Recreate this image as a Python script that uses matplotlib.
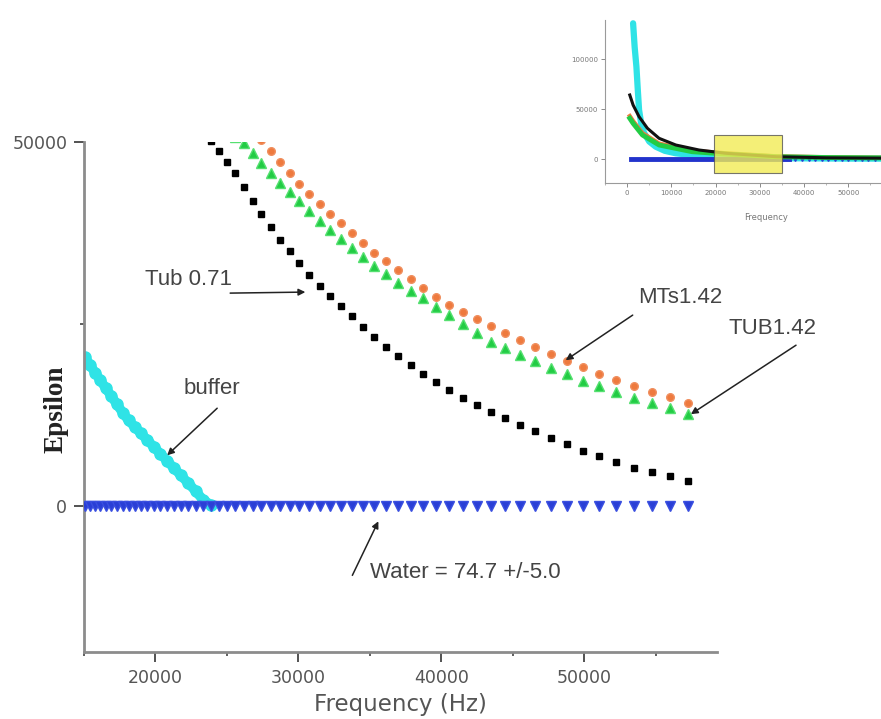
import matplotlib
matplotlib.use("Agg")
import matplotlib.pyplot as plt
from matplotlib.ticker import MultipleLocator
from matplotlib.patches import Rectangle

# ---------------- data ----------------
freq_buffer = [15070, 15420, 15780, 16150, 16520, 16910, 17300, 17710, 18120, 18540,
               18970, 19410, 19870, 20330, 20800, 21290, 21780, 22290, 22810, 23340, 23880]
eps_buffer = [20470, 19390, 18320, 17270, 16220, 15120, 14010, 12850, 11790, 10920,
              10030, 9130, 8180, 7230, 6260, 5250, 4240, 3190, 2090, 870, 200]

freq_water = [15070, 15420, 15780, 16150, 16520, 16910, 17300, 17710, 18120, 18540,
              18970, 19410, 19870, 20330, 20800, 21290, 21780, 22290, 22810, 23340,
              23880, 24440, 25010, 25590, 26190, 26800, 27420, 28060, 28720, 29390,
              30070, 30770, 31490, 32220, 32970, 33740, 34530, 35330, 36150, 37000,
              37860, 38740, 39640, 40570, 41510, 42480, 43470, 44480, 45520, 46580,
              47660, 48770, 49910, 51070, 52260, 53480, 54720, 56000, 57300]
eps_water = [79, 79, 78, 78, 77, 77, 77, 76, 76, 76,
             76, 75, 75, 75, 75, 75, 75, 75, 75, 75,
             75, 75, 75, 75, 75, 75, 75, 75, 74, 74,
             74, 74, 74, 74, 74, 74, 74, 74, 74, 74,
             74, 74, 74, 74, 74, 74, 74, 74, 74, 74,
             74, 74, 74, 74, 74, 74, 74, 74, 74]

freq_tub071 = [23880, 24440, 25010, 25590, 26190, 26800, 27420, 28060, 28720, 29390,
               30070, 30770, 31490, 32220, 32970, 33740, 34530, 35330, 36150, 37000,
               37860, 38740, 39640, 40570, 41510, 42480, 43470, 44480, 45520, 46580,
               47660, 48770, 49910, 51070, 52260, 53480, 54720, 56000, 57300]
eps_tub071 = [50080, 48710, 47310, 45740, 43850, 41940, 40100, 38310, 36590, 35010,
              33410, 31760, 30230, 28930, 27550, 26060, 24620, 23250, 21920, 20620,
              19390, 18210, 17070, 15970, 14930, 13920, 12990, 12100, 11190, 10270,
              9400, 8510, 7640, 6860, 6060, 5320, 4720, 4110, 3480]

freq_tub142 = [25590, 26190, 26800, 27420, 28060, 28720, 29390, 30070, 30770, 31490,
               32220, 32970, 33740, 34530, 35330, 36150, 37000, 37860, 38740, 39640,
               40570, 41510, 42480, 43470, 44480, 45520, 46580, 47660, 48770, 49910,
               51070, 52260, 53480, 54720, 56000, 57300]
eps_tub142 = [50700, 49850, 48510, 47160, 45750, 44390, 43190, 41930, 40560, 39200,
              37890, 36640, 35460, 34240, 33010, 31820, 30700, 29600, 28520, 27410,
              26270, 25040, 23770, 22580, 21700, 20800, 19880, 19010, 18110, 17220,
              16460, 15670, 14890, 14170, 13440, 12690]

freq_mts142 = [27420, 28060, 28720, 29390, 30070, 30770, 31490, 32220, 32970, 33740,
               34530, 35330, 36150, 37000, 37860, 38740, 39640, 40570, 41510, 42480,
               43470, 44480, 45520, 46580, 47660, 48770, 49910, 51070, 52260, 53480,
               54720, 56000, 57300]
eps_mts142 = [50240, 48760, 47230, 45740, 44300, 42850, 41440, 40110, 38870, 37540,
              36110, 34810, 33630, 32420, 31230, 30020, 28790, 27660, 26680, 25700,
              24750, 23790, 22810, 21840, 20940, 20000, 19090, 18220, 17360, 16560,
              15750, 14950, 14140]

x_ticks_major = [20000, 30000, 40000, 50000]
y_ticks_major = [0, 50000]

# inset (overview thumbnail)
in_buffer_f = [1350, 1700, 2100, 2400, 2700, 3200, 3840, 5000, 6470, 8500, 11000,
               15000, 19200, 25000, 35000, 50000, 67000]
in_buffer_v = [135700, 112000, 92300, 70000, 49000, 35000, 26000, 17500, 12300, 8200,
               5700, 3800, 2300, 1500, 800, 400, 300]
in_black_f = [600, 1350, 2700, 4590, 7220, 11000, 16250, 22300, 33600, 45000, 60000, 67000]
in_black_v = [64000, 54000, 42300, 30700, 20700, 14000, 9000, 5700, 2300, 1200, 800, 700]
in_green_f = [600, 1350, 3460, 7220, 14700, 22300, 33600, 45000, 60000, 67000]
in_green_v = [40700, 35700, 24000, 14000, 7300, 5000, 2300, 1500, 1000, 900]
in_orange_f = [600, 1350, 3460, 7220, 14700, 22300, 33600, 45000, 60000, 67000]
in_orange_v = [43000, 38000, 26000, 15500, 8300, 5800, 2800, 1800, 1200, 1000]
in_water_f = [830, 36500]
in_water_v = [0, 0]
in_water_dots_f = [38000, 39500, 41000, 42500, 44000, 45500, 47000, 48500, 50000, 51500,
                   53000, 54500, 56000, 57500, 59000, 60500, 62000, 63500, 65000, 66500]
in_water_dots_v = [0] * len(in_water_dots_f)
in_box = (19640, -14300, 15280, 38300)  # x, y, width, height of the zoom box

# ---------------- figure ----------------
W, H = 881, 719
fig = plt.figure(figsize=(W / 100, H / 100), dpi=100)
fig.patch.set_facecolor("white")

ax = fig.add_axes([84 / W, 1 - 652 / H, (717 - 84) / W, (652 - 142) / H])
ax.set_xlim(15000, 59300)
ax.set_ylim(-20000, 50000)

ax.plot(freq_buffer, eps_buffer, ls="-", lw=7, marker="o", ms=8, color="#2fe3e6",
        mec="#2fe3e6", solid_capstyle="butt", zorder=2)
ax.plot(freq_water, eps_water, ls="none", marker="v", ms=7, color="#2a3fd6",
        mec="#3a4fe0", zorder=3)
ax.plot(freq_tub071, eps_tub071, ls="none", marker="s", ms=5, color="black",
        mec="black", zorder=3)
ax.plot(freq_mts142, eps_mts142, ls="none", marker="o", ms=5.5, color="#ee7a3e",
        mec="#f09060", zorder=3)
ax.plot(freq_tub142, eps_tub142, ls="none", marker="^", ms=7, color="#22cc44",
        mec="#55e070", zorder=4)

for s in ("top", "right"):
    ax.spines[s].set_visible(False)
for s in ("left", "bottom"):
    ax.spines[s].set_color("#8c8c8c")
    ax.spines[s].set_linewidth(2.0)

ax.xaxis.set_major_locator(MultipleLocator(10000))
ax.xaxis.set_minor_locator(MultipleLocator(5000))
ax.yaxis.set_major_locator(MultipleLocator(50000))
ax.yaxis.set_minor_locator(MultipleLocator(25000))
ax.tick_params(axis="both", which="major", direction="out", length=7, width=1.3,
               color="#444444", labelsize=12.5, labelcolor="#555555", pad=5)
ax.tick_params(axis="both", which="minor", direction="out", length=3, width=1.2,
               color="#444444")
ax.set_xticks(x_ticks_major)
ax.set_yticks(y_ticks_major)
ax.set_xticklabels([str(v) for v in x_ticks_major])
ax.set_yticklabels([str(v) for v in y_ticks_major])

fig.text(400 / W, 1 - 705 / H, "Frequency (Hz)", ha="center", va="center",
         fontsize=16.5, color="#555555", family="DejaVu Sans")
fig.text(56 / W, 1 - 409 / H, "Epsilon", rotation=90, ha="center", va="center",
         fontsize=19.5, fontweight="bold", family="Liberation Serif", color="#222222")

# annotations
tfont = dict(family="Liberation Sans", fontsize=16, color="#444444", va="center",
             ha="left")
aprops = dict(arrowstyle="-|>", color="#222222", lw=1.1, mutation_scale=10,
              shrinkA=0, shrinkB=0)

ax.text(19300, 31180, "Tub 0.71", **tfont)
ax.annotate("", xy=(30490, 29400), xytext=(25230, 29260), arrowprops=aprops)

ax.text(21940, 16210, "buffer", **tfont)
ax.annotate("", xy=(20820, 7000), xytext=(24320, 13460), arrowprops=aprops)

ax.text(53750, 28710, "MTs1.42", clip_on=False, **tfont)
ax.annotate("", xy=(48710, 20050), xytext=(53400, 26240), arrowprops=aprops)

ax.text(60130, 24450, "TUB1.42", clip_on=False, **tfont)
ax.annotate("", xy=(57470, 12640), xytext=(64830, 22110), arrowprops=aprops,
            annotation_clip=False)

ax.text(35040, -9070, "Water = 74.7 +/-5.0", **tfont)
ax.annotate("", xy=(35600, -2060), xytext=(33780, -9480), arrowprops=aprops)

# ---------------- inset ----------------
ia = fig.add_axes([605 / W, 1 - 183 / H, 323 / W, 163 / H])
ia.set_xlim(-5000, 68000)
ia.set_ylim(-24000, 139000)
ia.plot(in_buffer_f, in_buffer_v, color="#2fe3e6", lw=4.5, solid_capstyle="round", zorder=2)
ia.plot(in_water_f, in_water_v, color="#2233cc", lw=3.5, zorder=3)
ia.plot(in_water_dots_f, in_water_dots_v, ls="none", marker="v", ms=2.8,
        color="#2a3fd6", zorder=3)
ia.plot(in_orange_f, in_orange_v, color="#ee7a3e", lw=3, zorder=3)
ia.plot(in_green_f, in_green_v, color="#22cc44", lw=3.5, zorder=4)
ia.plot(in_black_f, in_black_v, color="#111111", lw=2.2, zorder=5)
ia.add_patch(Rectangle((in_box[0], in_box[1]), in_box[2], in_box[3],
                       facecolor="#f2ec55", alpha=0.8, edgecolor="#555555",
                       lw=0.8, zorder=6))
for s in ("top", "right"):
    ia.spines[s].set_visible(False)
for s in ("left", "bottom"):
    ia.spines[s].set_color("#9a9a9a")
    ia.spines[s].set_linewidth(0.8)
ia.xaxis.set_major_locator(MultipleLocator(10000))
ia.xaxis.set_minor_locator(MultipleLocator(5000))
ia.yaxis.set_major_locator(MultipleLocator(50000))
ia.tick_params(which="major", length=3, width=0.6, color="#777777", labelsize=5,
               labelcolor="#777777", pad=2)
ia.tick_params(which="minor", length=1.5, width=0.5, color="#999999")
ia.set_xlabel("Frequency", fontsize=6, color="#777777", labelpad=12)

fig.savefig("out.png", dpi=100, facecolor="white")
